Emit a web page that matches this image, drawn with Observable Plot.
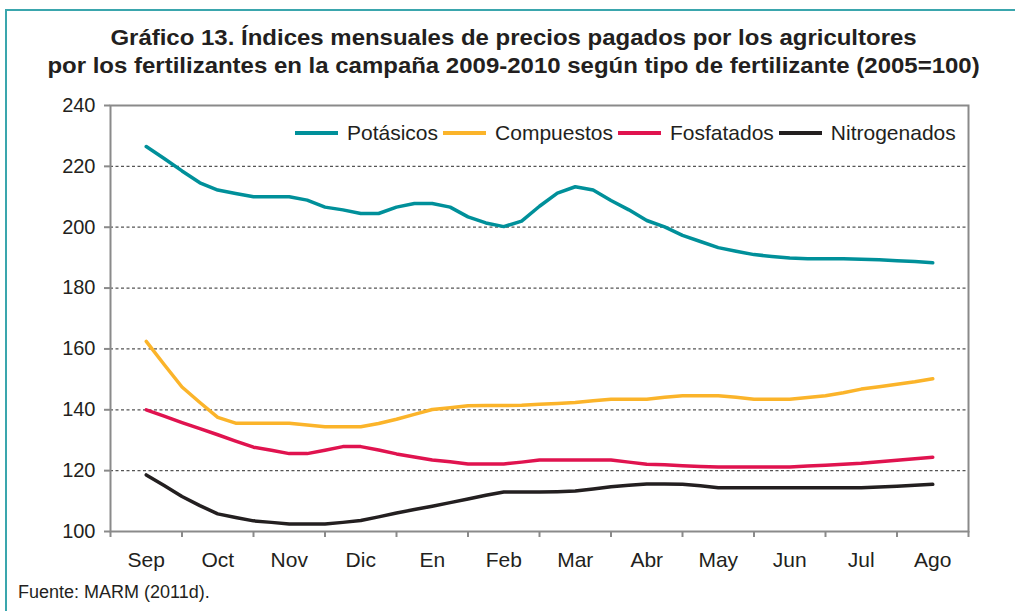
<!DOCTYPE html>
<html>
<head>
<meta charset="utf-8">
<script src="https://cdn.jsdelivr.net/npm/d3@7"></script>
<script src="https://cdn.jsdelivr.net/npm/@observablehq/plot@0.6"></script>
<style>
  body { margin: 0; background: #fff; font-family: "Liberation Sans", Arial, sans-serif; color: #231f20; }
  #wrap { position: relative; width: 1015px; height: 611px; overflow: hidden; background: #fff; }
  #frame { position: absolute; left: 5px; top: 9px; width: 1100px; height: 700px; border-left: 2px solid #3aa6ad; border-top: 2px solid #3aa6ad; }
  #chart { position: absolute; left: 0; top: 0; }
  #title { position: absolute; left: 0; width: 1027px; top: 24px; text-align: center; font-weight: bold; font-size: 22px; line-height: 28px; color: #231f20; transform: scaleX(1.09); transform-origin: 513px 0; }
  #legend { position: absolute; left: 295px; top: 121px; display: flex; align-items: center; font-size: 21px; line-height: 24px; white-space: nowrap; }
  #legend .sw { display: inline-block; width: 43px; height: 3.5px; margin-right: 9px; }
  #legend .lb { margin-right: 5px; }
  #caption { position: absolute; left: 18px; top: 581px; font-size: 18px; line-height: 22px; }
</style>
</head>
<body>
<div id="wrap">
  <div id="frame"></div>
  <div id="chart"></div>
  <div id="title">Gráfico 13. Índices mensuales de precios pagados por los agricultores<br>por los fertilizantes en la campaña 2009-2010 según tipo de fertilizante (2005=100)</div>
  <div id="legend"></div>
  <div id="caption">Fuente: MARM (2011d).</div>
</div>
<script>
// Month categories (campaña Sep 2009 – Ago 2010)
const months = ["Sep", "Oct", "Nov", "Dic", "En", "Feb", "Mar", "Abr", "May", "Jun", "Jul", "Ago"];
const pointsPerMonth = 4; // values read at quarter-month steps

const seriesNames = ["Potásicos", "Compuestos", "Fosfatados", "Nitrogenados"];
const seriesColors = ["#00909a", "#fbb42a", "#e0134f", "#231f20"];

const potasicos = [226.5, 222.6, 218.5, 214.6, 212.2, 211.1, 210, 210, 210, 208.9, 206.6, 205.7, 204.5, 204.5, 206.6, 207.8, 207.8, 206.6, 203.4, 201.4, 200.2, 202, 206.9, 211.2, 213.3, 212.2, 208.8, 205.7, 202.2, 200.1, 197.3, 195.3, 193.3, 192.1, 191, 190.4, 189.9, 189.6, 189.6, 189.6, 189.5, 189.3, 189.0, 188.7, 188.3];
const compuestos = [162.5, 154.9, 147.5, 142.4, 137.5, 135.6, 135.6, 135.6, 135.6, 135.0, 134.4, 134.4, 134.4, 135.5, 136.9, 138.5, 140.1, 140.7, 141.3, 141.4, 141.4, 141.5, 141.8, 142.1, 142.4, 143, 143.5, 143.5, 143.5, 144.1, 144.6, 144.6, 144.6, 144.1, 143.5, 143.5, 143.5, 144, 144.6, 145.6, 146.8, 147.6, 148.4, 149.2, 150.2];
const fosfatados = [140, 137.9, 135.8, 133.8, 131.8, 129.7, 127.7, 126.7, 125.6, 125.6, 126.7, 127.9, 127.9, 126.8, 125.5, 124.5, 123.5, 122.9, 122.2, 122.2, 122.2, 122.8, 123.5, 123.5, 123.5, 123.5, 123.5, 122.8, 122.1, 121.9, 121.6, 121.4, 121.2, 121.2, 121.2, 121.2, 121.2, 121.5, 121.8, 122.1, 122.4, 122.9, 123.4, 123.9, 124.4];
const nitrogenados = [118.6, 115.1, 111.5, 108.5, 105.8, 104.6, 103.5, 103, 102.5, 102.5, 102.5, 103, 103.6, 104.8, 106.1, 107.2, 108.3, 109.5, 110.7, 111.9, 113, 113, 113, 113.1, 113.3, 114, 114.7, 115.2, 115.6, 115.6, 115.5, 115, 114.4, 114.4, 114.4, 114.4, 114.4, 114.4, 114.4, 114.4, 114.4, 114.6, 114.9, 115.2, 115.5];

const yTicks = [100, 120, 140, 160, 180, 200, 220, 240];

const seriesValues = [potasicos, compuestos, fosfatados, nitrogenados];
const data = seriesNames.flatMap((name, s) =>
  seriesValues[s].map((v, i) => ({ x: i / pointsPerMonth, y: v, serie: name }))
);
const monthIdx = months.map((m, i) => i);
const boundaries = d3.range(months.length + 1).map(i => i - 0.5);

const axisGray = "#8a8a8a";

const chart = Plot.plot({
  width: 1015,
  height: 611,
  marginTop: 105,
  marginBottom: 80,
  marginLeft: 110,
  marginRight: 47,
  style: { fontFamily: "'Liberation Sans', Arial, sans-serif", fontSize: "20px", color: "#231f20", background: "transparent" },
  x: { domain: [-0.5, months.length - 0.5], axis: null },
  y: { domain: [100, 240], axis: null },
  color: { domain: seriesNames, range: seriesColors },
  marks: [
    Plot.ruleY(yTicks.slice(1, -1), { stroke: "#555", strokeDasharray: "3,2.5", strokeWidth: 1.3 }),
    Plot.frame({ stroke: axisGray, strokeWidth: 2 }),
    Plot.axisY(yTicks, { label: null, tickSize: 6, tickPadding: 9, stroke: axisGray, strokeWidth: 2, fill: "#231f20", fontSize: 20 }),
    Plot.axisX(boundaries, { label: null, tickSize: 6, stroke: axisGray, strokeWidth: 2, tickFormat: () => "" }),
    Plot.axisX(monthIdx, { label: null, tickSize: 0, tickPadding: 21, tickFormat: i => months[i], fill: "#231f20", fontSize: 21 }),
    Plot.line(data, { x: "x", y: "y", z: "serie", stroke: "serie", strokeWidth: 3.5, strokeLinejoin: "round", curve: "linear" })
  ]
});
document.getElementById("chart").appendChild(chart);

const legend = document.getElementById("legend");
seriesNames.forEach((name, i) => {
  const sw = document.createElement("span");
  sw.className = "sw";
  sw.style.background = seriesColors[i];
  const lb = document.createElement("span");
  lb.className = "lb";
  lb.textContent = name;
  legend.appendChild(sw);
  legend.appendChild(lb);
});
</script>
</body>
</html>
